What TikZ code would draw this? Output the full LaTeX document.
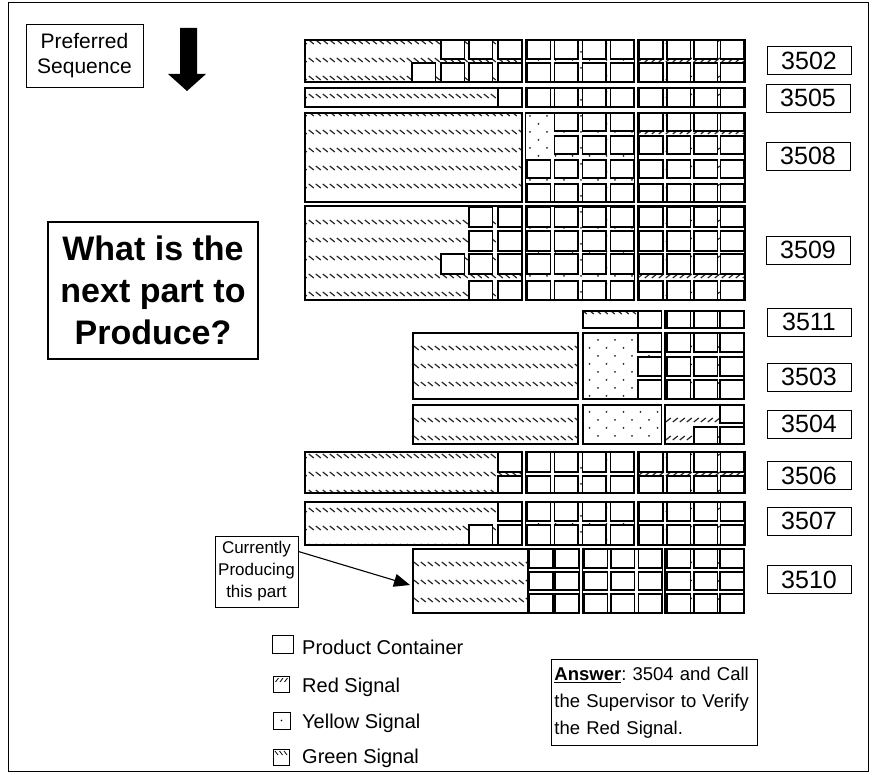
\documentclass[tikz,border=0pt]{standalone}
\usepackage{fontspec}
\setmainfont{Liberation Sans}
\usepackage{tikz}
\usetikzlibrary{arrows.meta, positioning, patterns}

\pgfdeclarepatternformonly{grnsig}{\pgfpoint{-1pt}{-1pt}}{\pgfpoint{8pt}{19pt}}{\pgfpoint{7pt}{18pt}}{
  \pgfsetlinewidth{1.2pt}
  \pgfpathmoveto{\pgfpoint{0.8pt}{15pt}}
  \pgfpathlineto{\pgfpoint{5.8pt}{11pt}}
  \pgfusepath{stroke}}
\pgfdeclarepatternformonly{redsig}{\pgfpoint{-1pt}{-1pt}}{\pgfpoint{8pt}{19pt}}{\pgfpoint{7pt}{18pt}}{
  \pgfsetlinewidth{1.2pt}
  \pgfpathmoveto{\pgfpoint{0.8pt}{11pt}}
  \pgfpathlineto{\pgfpoint{5.8pt}{15pt}}
  \pgfusepath{stroke}}
\pgfdeclarepatternformonly{ylwsig}{\pgfpoint{-1pt}{-1pt}}{\pgfpoint{18pt}{17pt}}{\pgfpoint{17pt}{16pt}}{
  \pgfpathcircle{\pgfpoint{3pt}{3pt}}{1pt}
  \pgfpathcircle{\pgfpoint{11.5pt}{11pt}}{1pt}
  \pgfusepath{fill}}

\tikzset{
  sigzone/.style={draw=black, line width=1.3pt, pattern color=black!85},
  can/.style={draw=black, fill=white, line width=1.3pt},
  tag/.style={draw, line width=0.9pt, minimum width=84pt, minimum height=28pt, inner sep=0pt,
    font=\fontsize{25}{28}\selectfont},
  note/.style={draw, line width=0.9pt, align=center, inner sep=2pt},
  key/.style={anchor=base west, inner sep=0pt, font=\fontsize{20}{22}\selectfont},
  pointer/.style={-{Triangle[length=16pt,width=13pt]}, line width=1.1pt},
}

\newcommand{\sigzone}[5]{\draw[sigzone, pattern=#5] (#1,#2) rectangle (#3,#4);}
\newcommand{\cans}[3]{\foreach \cx in {#3}{\draw[can] (\cx,#1) rectangle ++(23.5,#2-#1);}}
\newcommand{\fullrow}[2]{\cans{#1}{#2}{527,554.5,582.5,610.5,639.5,667,694,720.5}}
\newcommand{\stdzones}[2]{\sigzone{305}{#1}{522}{#2}{grnsig}\sigzone{525.5}{#1}{634.5}{#2}{ylwsig}\sigzone{638}{#1}{745}{#2}{redsig}}

\begin{document}
\begin{tikzpicture}[x=1pt, y=-1pt]
  \useasboundingbox (0,0) rectangle (876,775);
  \draw[line width=1pt] (8,3) rectangle (868,771);

  \node[note, minimum width=117pt, minimum height=63pt, font=\fontsize{21}{25}\selectfont] (pref) at (84.5,55.5) {Preferred\\Sequence};
  \fill (180,28) -- (197,28) -- (197,74) -- (206,74) -- (187,91) -- (168,74) -- (180,74) -- cycle;

  \node[note, line width=1.2pt, minimum width=210pt, minimum height=137pt,
        font=\fontsize{34}{42}\selectfont\bfseries] (ask) at (153,290.5) {What is the\\next part to\\Produce?};

  % 3502
  \stdzones{40}{82}
  \fullrow{40}{59}\fullrow{63}{82}
  \cans{40}{59}{441,469,498}\cans{63}{82}{412,441,469,498}
  % 3505
  \stdzones{88}{107}
  \fullrow{88}{107}\cans{88}{107}{498}
  % 3508
  \stdzones{113}{202}
  \cans{113}{131}{554.5,582.5,610.5,639.5,667,694,720.5}
  \cans{136}{154}{554.5,582.5,610.5,639.5,667,694,720.5}
  \fullrow{160}{178}\fullrow{184}{202}
  % 3509
  \stdzones{206}{300}
  \fullrow{207}{227}\fullrow{231}{251}\fullrow{254}{274}\fullrow{281}{300}
  \cans{207}{227}{469,498}\cans{231}{251}{469,498}\cans{254}{274}{441,469,498}\cans{281}{300}{469,498}
  % 3511
  \sigzone{583}{311}{661.5}{328}{grnsig}\sigzone{665}{311}{744}{328}{redsig}
  \cans{311}{328}{638,667,694,720}
  % 3503
  \sigzone{413}{333}{578}{399}{grnsig}\sigzone{583}{333}{661.5}{399}{ylwsig}\sigzone{665}{333}{744}{399}{redsig}
  \cans{333}{352}{638,667,694,720}\cans{357}{376}{638,667,694,720}\cans{380}{399}{638,667,694,720}
  % 3504
  \sigzone{413}{405}{578}{444}{grnsig}\sigzone{583}{405}{661.5}{444}{ylwsig}\sigzone{665}{405}{744}{444}{redsig}
  \cans{405}{423}{720}\cans{427}{444}{694,720}
  % 3506
  \stdzones{452}{493}
  \fullrow{452}{472}\fullrow{476}{493}
  \cans{452}{472}{498}\cans{476}{493}{498}
  % 3507
  \stdzones{502}{545}
  \fullrow{502}{521}\fullrow{525}{545}
  \cans{502}{521}{498}\cans{525}{545}{469,498}
  % 3510
  \sigzone{413}{549}{528}{613}{grnsig}\sigzone{528}{549}{579.5}{613}{ylwsig}
  \sigzone{582.5}{549}{662.5}{613}{ylwsig}\sigzone{665}{549}{744}{613}{redsig}
  \foreach \ya/\yb in {549/568,572/590,594/613}
    \cans{\ya}{\yb}{529.5,555,584,611,638.5,667,694,720};

  \node[tag] (p3502) at (809,60.5) {3502};
  \node[tag] (p3505) at (808,98) {3505};
  \node[tag] (p3508) at (808,156) {3508};
  \node[tag] (p3509) at (808,250) {3509};
  \node[tag] (p3511) at (809,322) {3511};
  \node[tag] (p3503) at (809,377) {3503};
  \node[tag] (p3504) at (809,424) {3504};
  \node[tag] (p3506) at (809,475.5) {3506};
  \node[tag] (p3507) at (809,521) {3507};
  \node[tag] (p3510) at (809,579.5) {3510};

  \node[note, minimum width=83pt, minimum height=71pt, font=\fontsize{17}{22}\selectfont] (cur) at (256.5,571.5) {Currently\\Producing\\this part};
  \coordinate (g3510) at (410,585);
  \draw[pointer] ([yshift=20pt]cur.east) -- (g3510);

  \draw[line width=1pt] (272,635) rectangle (293,653);
  \node[key] (kcont) at (302,654) {Product Container};
  \draw[line width=1pt] (273,676) rectangle (289,692);
  \foreach \sx in {275.5,280,284.5} \draw[line width=0.8pt] (\sx,682) -- ++(3,-4);
  \node[key] (kred) at (302,692) {Red Signal};
  \draw[line width=1pt] (273,712) rectangle (290,729);
  \fill (281.5,720.5) circle (0.9pt);
  \node[key] (kylw) at (302,728) {Yellow Signal};
  \draw[line width=1pt] (273,749) rectangle (289,765);
  \foreach \sx in {275,279.5,284} \draw[line width=0.8pt] (\sx,751) -- ++(3,4);
  \node[key] (kgrn) at (302,763) {Green Signal};

  \node[draw, line width=0.9pt, anchor=north west, text width=200pt, inner sep=3pt, minimum height=86pt, align=left,
        font=\fontsize{18.5}{27}\selectfont\frenchspacing] (ans) at (551,659)
        {\textbf{\underline{Answer}}: 3504 and Call\\the Supervisor to Verify\\the Red Signal.};
\end{tikzpicture}
\end{document}
